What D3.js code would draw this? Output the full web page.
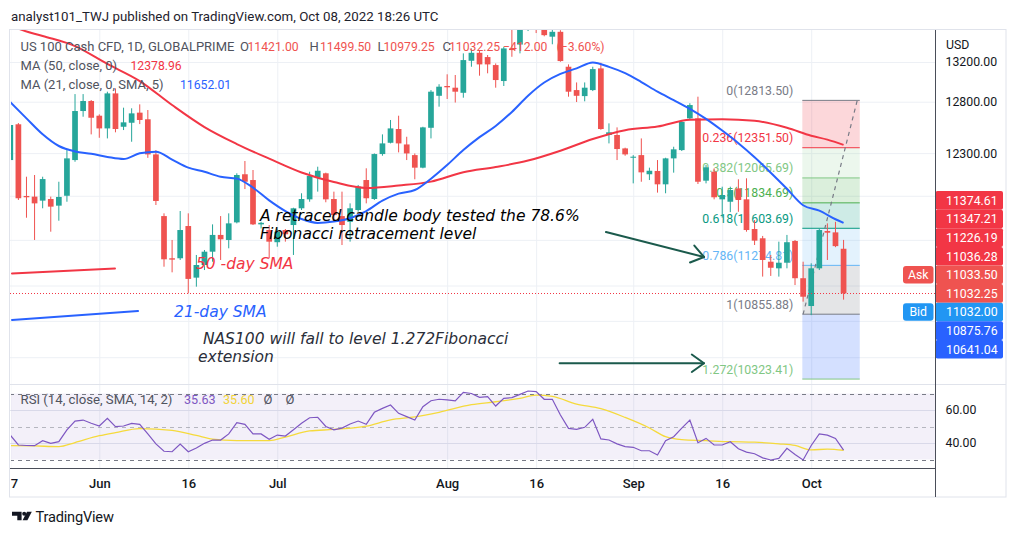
<!DOCTYPE html>
<html><head><meta charset="utf-8">
<script src="https://cdn.jsdelivr.net/npm/d3@7"></script>
<style>
html,body{margin:0;padding:0;background:#fff;}
svg{display:block;font-family:Roboto,"Noto Sans",sans-serif;}
</style></head><body>
<svg id="c" width="1018" height="536"></svg>
<script>
// ---------------- DATA ----------------
const tickIdx = [0, 11, 22, 33, 54, 65, 77, 88, 99];
const tickLbl = ["17", "Jun", "16", "Jul", "Aug", "16", "Sep", "16", "Oct"];

const open = [12234,12578,11898,11892,11855,11870,11809,11900,12234,12708,
 12807,12662,12538,12883,12554,12593,12692,12627,12288,11714,
 11337,11337,11624,11168,11278,11395,11544,11499,11657,12100,
 12046,11639,11588,11479,11588,11633,11785,11867,12067,12109,
 11870,11714,11662,11769,12046,11870,12291,12399,12532,12383,
 12281,12162,12544,12859,12957,12940,12889,13213,13295,13251,
 13169,13007,13340,13380,13560,13660,13600,13462,13513,13152,
 12916,12856,12916,13135,12474,12474,12345,12256,12281,12100,
 12131,12006,12250,12329,12636,12636,12040,12124,11867,11845,
 11968,11867,11597,11514,11307,11249,11298,11490,11163,10925,
 11249,11579,11567,11421.00];
const high = [12620,12590,12077,12093,12077,11892,12030,12329,12876,12876,
 12817,12675,12900,12933,12741,12735,12774,12718,12329,11739,
 11499,11760,11739,11366,11410,11639,11714,11739,12109,12225,
 12140,11662,11633,11602,11597,11790,11923,12124,12171,12115,
 11938,11938,11830,12000,12156,12297,12480,12620,12662,12457,
 12297,12554,12916,12975,13075,13068,13289,13340,13323,13272,
 13186,13357,13532,13620,13700,13740,13650,13560,13530,13176,
 12993,12993,13152,13193,12587,12548,12352,12281,12441,12162,
 12234,12256,12361,12620,12785,12850,12187,12156,11984,11984,
 12053,12062,11678,11535,11366,11484,11544,11499,11307,11293,
 11602,11648,11662,11499.50];
const low = [12206,11861,11699,11499,11785,11573,11672,11845,12218,12652,
 12480,12447,12441,12500,12522,12409,12580,12255,11815,11263,
 11214,11322,11033,11090,11234,11307,11322,11425,11648,11962,
 11633,11602,11337,11439,11484,11366,11769,11845,11938,11840,
 11662,11454,11484,11754,11830,11861,12275,12393,12307,12234,
 12053,12156,12441,12751,12827,12792,12840,13152,13061,13085,
 12940,12957,13254,13289,13521,13500,13466,13383,13203,12850,
 12797,12804,12906,12525,12393,12234,12275,12015,12030,12046,
 11929,11923,12115,12320,12620,12009,12015,11867,11700,11750,
 11753,11573,11454,11177,11183,11177,11249,11104,10962,10848,
 11234,11322,11435,10979.25];
const close = [12571,11877,11886,11830,12055,11800,11889,12250,12708,12807,
 12642,12538,12883,12532,12597,12685,12620,12288,11852,11328,
 11325,11588,11157,11278,11395,11544,11505,11648,12093,12030,
 11639,11653,11484,11573,11550,11785,11870,12084,12133,11867,
 11723,11633,11785,11984,11877,12291,12393,12538,12393,12297,
 12162,12548,12900,12950,12944,12900,13220,13295,13176,13176,
 13017,13340,13323,13560,13640,13610,13478,13513,13210,12900,
 12859,12940,13128,12532,12500,12339,12288,12266,12118,12133,
 12006,12250,12336,12601,12767,12030,12165,11886,11907,11953,
 11861,11588,11493,11322,11254,11298,11479,11163,11004,11249,
 11588,11564,11444.25,11032.25];

const ma50Idx = [0,1,4,8,12,16,20,24,28,32,36,40,44,48,52,56,60,64,68,72,76,80,84,88,92,96,99,101,103];
const ma50 = [13590,13547,13470,13364,13180,13007,12767,12551,12387,12247,12116,12027,11972,11995,12031,12119,12168,12229,12323,12435,12521,12556,12622,12627,12612,12544,12467,12429,12378.96];

const ma21Idx = [0,2,4,6,8,10,12,14,16,18,20,22,24,26,28,30,32,34,36,38,40,42,44,46,48,50,52,54,56,58,60,62,64,66,68,70,72,74,76,78,80,82,84,86,88,90,92,94,96,98,100,102,103];
const ma21 = [12797,12636,12481,12368,12316,12293,12264,12244,12298,12313,12239,12163,12123,12076,12059,11975,11857,11759,11687,11652,11664,11694,11760,11855,11920,11953,12058,12187,12329,12453,12562,12699,12860,12992,13079,13135,13196,13151,13087,12997,12900,12816,12730,12631,12517,12395,12261,12115,11965,11813,11763,11685,11652.01];

const rsi = [44.8,38.8,38.5,38.4,41.4,39.8,40.8,47.9,53.3,53.9,
 52,50.3,55,49.9,50.3,51.9,51.3,45.5,39.5,35,
 34.7,39.4,34.7,37,39.8,41.8,41.8,45.5,52.3,51.3,
 45.5,45.5,42.2,44.8,44.2,48,52,55.3,55.6,50,
 48,49,51.5,53.3,51.3,58.6,61,63,58,56,
 53.9,62,65.6,66.5,66.1,65.5,70.7,70,67.7,68.1,
 62.4,67.1,67.5,69.5,71.5,71.1,66.5,66.5,57,48.9,
 48.3,49.5,54.4,42.5,41.8,39.5,37.8,37.4,35.3,35.3,
 32.7,41.4,43.8,49,53.9,40.2,42.8,38.8,38.8,40.8,
 36.5,34.5,33.5,31,29.7,30.7,36.8,33,29.7,38.5,
 45.5,44.8,42.8,35.63];
const rsiMaIdx = [0,3,6,8,11,13,16,20,23,25,28,32,34,37,40,44,47,50,53,57,60,63,65,67,70,73,76,79,81,83,86,89,92,95,97,99,101,103];
const rsiMa = [38.4,38.2,37.8,40.3,44.4,46.3,48.7,47.6,44.6,42.4,41.5,41.4,43.6,47.3,48.2,50.2,54,55.8,58.6,63.2,65,67,69,68.2,63.6,60.8,55.5,49.1,43.8,42,41.4,40.8,40.5,39.5,38.5,35.8,36.3,35.60];

const priceTicks = [13200, 12800, 12300, 11900, 11500, 11100, 10800, 10500];
const rsiTicks = [60, 40];
const rsiBands = [70, 50, 30];

const fibRatios = [0, 0.236, 0.382, 0.5, 0.618, 0.786, 1, 1.272];
const fibPrices = [12813.50, 12351.50, 12065.69, 11834.69, 11603.69, 11274.81, 10855.88, 10323.41];
const fibSpan = [98, 105];

const axisLabels = [11374.61, 11347.21, 11226.19, 11036.28, 11033.50, 11032.25, 11032.00, 10875.76, 10641.04];

// drawings (bar index, price)
const redSeg = [[0.21, 11204], [12.94, 11247]];
const blueSeg = [[0.21, 10807], [15.79, 10883]];
const arrow1 = [[73.63, 11570], [85.75, 11348]];
const arrow2 = [[67.9, 10451], [85.75, 10451]];

// ---------------- STYLE / LAYOUT ----------------
const PL = 10, PR = 935, PT = 30, PB = 384, RT = 385, RB = 468, TB = 497, AR = 1006;
const GRID = "#EDF0F5", UP = "#26A69A", DN = "#EF5350", TXT = "#131722";
const fibLineCol = ["#787B86","#F23645","#81C784","#4CAF50","#089981","#64B5F6","#787B86","#81C784"];
const fibFill = ["#F23645","#81C784","#4CAF50","#089981","#64B5F6","#787B86","#2962FF"];
const fibFillOp = [0.2,0.15,0.2,0.2,0.18,0.2,0.2];
const labelCol = ["#F23645","#F23645","#F23645","#F23645","#EF5350","#EF5350","#2196F3","#2962FF","#2962FF"];

const svg = d3.select("#c");
const xs = d3.scaleLinear().domain([0, 103]).range([10.3, 10.3 + 103 * 8.09]);
const y = d3.scaleLog().domain([10284, 13532]).range([PB, PT]);
const ry = d3.scaleLinear().domain([30, 70]).range([459.5, 393.5]);
const BW = 5.7;

const defs = svg.append("defs");
defs.append("clipPath").attr("id","cp").append("rect").attr("x",PL+1).attr("y",PT).attr("width",PR-PL-1).attr("height",PB-PT);
defs.append("clipPath").attr("id","cr").append("rect").attr("x",PL+1).attr("y",RT).attr("width",PR-PL-1).attr("height",RB-RT);
defs.append("clipPath").attr("id","ct").append("rect").attr("x",PL+0.5).attr("y",RB).attr("width",PR-PL).attr("height",TB-RB);

// ---------- grids ----------
svg.append("g").attr("transform",`translate(${PL},0)`)
  .call(d3.axisRight(y).tickValues(priceTicks).tickSize(PR-PL).tickFormat(""))
  .call(g=>{g.select(".domain").remove(); g.selectAll("line").attr("stroke",GRID);});
svg.append("g").attr("clip-path","url(#cp)").append("g").attr("transform",`translate(0,${PT})`)
  .call(d3.axisBottom(xs).tickValues(tickIdx).tickSize(PB-PT).tickFormat(""))
  .call(g=>{g.select(".domain").remove(); g.selectAll("line").attr("stroke",GRID);});
svg.append("g").attr("clip-path","url(#cr)").append("g").attr("transform",`translate(0,${RT})`)
  .call(d3.axisBottom(xs).tickValues(tickIdx).tickSize(RB-RT).tickFormat(""))
  .call(g=>{g.select(".domain").remove(); g.selectAll("line").attr("stroke",GRID);});
svg.append("g").attr("transform",`translate(${PL},0)`)
  .call(d3.axisRight(ry).tickValues(rsiTicks).tickSize(PR-PL).tickFormat(""))
  .call(g=>{g.select(".domain").remove(); g.selectAll("line").attr("stroke","#E3E6EE");});

// ---------- RSI band ----------
const gR = svg.append("g").attr("clip-path","url(#cr)");
gR.append("rect").attr("x",PL).attr("width",PR-PL).attr("y",ry(70)).attr("height",ry(30)-ry(70))
  .attr("fill","rgba(126,87,194,0.09)");
gR.selectAll("line.band").data(rsiBands).join("line")
  .attr("x1",PL).attr("x2",PR).attr("y1",d=>Math.round(ry(d))+0.5).attr("y2",d=>Math.round(ry(d))+0.5)
  .attr("stroke",d=>d===50?"rgba(120,123,134,0.5)":"#787B86").attr("stroke-dasharray","4,4");

// ---------- Fibonacci ----------
const gF = svg.append("g").attr("clip-path","url(#cp)");
const fx0 = xs(fibSpan[0]) - 0.8, fx1 = xs(fibSpan[1]);
for (let k = 0; k < fibPrices.length - 1; k++) {
  gF.append("rect").attr("x",fx0).attr("width",fx1-fx0)
    .attr("y",y(fibPrices[k])).attr("height",y(fibPrices[k+1])-y(fibPrices[k]))
    .attr("fill",fibFill[k]).attr("fill-opacity",fibFillOp[k]);
}
fibPrices.forEach((p,k)=>{
  gF.append("line").attr("x1",fx0).attr("x2",fx1).attr("y1",y(p)).attr("y2",y(p))
    .attr("stroke",fibLineCol[k]).attr("stroke-width",1);
  gF.append("text").attr("x",fx0-9).attr("y",y(p)-5.5).attr("text-anchor","end")
    .attr("font-size",12.3).attr("fill",fibLineCol[k])
    .text(`${fibRatios[k]}(${p.toFixed(2)})`);
});

// ---------- candles ----------
const gC = svg.append("g").attr("clip-path","url(#cp)");
const idx = d3.range(open.length);
gC.selectAll("line.wick").data(idx).join("line")
  .attr("x1",i=>xs(i)).attr("x2",i=>xs(i)).attr("y1",i=>y(high[i])).attr("y2",i=>y(low[i]))
  .attr("stroke",i=>close[i]>=open[i]?UP:DN).attr("stroke-width",1);
gC.selectAll("rect.body").data(idx).join("rect")
  .attr("x",i=>xs(i)-BW/2).attr("width",BW)
  .attr("y",i=>y(Math.max(open[i],close[i])))
  .attr("height",i=>Math.max(1,Math.abs(y(open[i])-y(close[i]))))
  .attr("fill",i=>close[i]>=open[i]?UP:DN);

// ---------- fib trend dashed line ----------
gF.append("line").attr("x1",xs(fibSpan[0])).attr("y1",y(fibPrices[6]))
  .attr("x2",xs(fibSpan[1])-2.5).attr("y2",y(fibPrices[0]))
  .attr("stroke","#787B86").attr("stroke-width",1.2).attr("stroke-dasharray","4,4");

// ---------- moving averages ----------
const lineP = d3.line().x(d=>xs(d[0])).y(d=>y(d[1])).curve(d3.curveMonotoneX);
gC.append("path").datum(ma50Idx.map((d,k)=>[d,ma50[k]])).attr("d",lineP)
  .attr("fill","none").attr("stroke","#F23645").attr("stroke-width",2);
gC.append("path").datum(ma21Idx.map((d,k)=>[d,ma21[k]])).attr("d",lineP)
  .attr("fill","none").attr("stroke","#2962FF").attr("stroke-width",2);

// ---------- RSI ----------
gR.append("path").datum(rsiMaIdx.map((d,k)=>[d,rsiMa[k]]))
  .attr("d",d3.line().x(d=>xs(d[0])).y(d=>ry(d[1])).curve(d3.curveMonotoneX))
  .attr("fill","none").attr("stroke","#F5DA3C").attr("stroke-width",1.3);
gR.append("path").datum(rsi.map((v,i)=>[i,v])).attr("d",d3.line().x(d=>xs(d[0])).y(d=>ry(d[1])))
  .attr("fill","none").attr("stroke","#7E57C2").attr("stroke-width",1.2);

// ---------- current price line ----------
const lastClose = close[close.length-1];
svg.append("line").attr("x1",PL).attr("x2",PR).attr("y1",Math.round(y(lastClose))+0.5).attr("y2",Math.round(y(lastClose))+0.5)
  .attr("stroke","#F23645").attr("stroke-dasharray","1,2");

// ---------- drawings ----------
const gD = svg.append("g").attr("clip-path","url(#cp)");
const seg = (pts,col,w)=>gD.append("line").attr("x1",xs(pts[0][0])).attr("y1",y(pts[0][1]))
  .attr("x2",xs(pts[1][0])).attr("y2",y(pts[1][1])).attr("stroke",col).attr("stroke-width",w).attr("stroke-linecap","round");
seg(redSeg,"#F23645",2);
seg(blueSeg,"#2962FF",2);
const ARC = "#1B5A4C";
[arrow1, arrow2].forEach(a=>{
  seg(a, ARC, 2);
  const x1=xs(a[0][0]), y1=y(a[0][1]), x2=xs(a[1][0]), y2=y(a[1][1]);
  const ang = Math.atan2(y2-y1, x2-x1), L=15, th=0.62;
  const p1=[x2+L*Math.cos(ang+Math.PI-th), y2+L*Math.sin(ang+Math.PI-th)];
  const p2=[x2+L*Math.cos(ang+Math.PI+th), y2+L*Math.sin(ang+Math.PI+th)];
  gD.append("path").attr("d",`M${p1[0]},${p1[1]}L${x2},${y2}L${p2[0]},${p2[1]}`)
    .attr("fill","none").attr("stroke",ARC).attr("stroke-width",2).attr("stroke-linecap","round").attr("stroke-linejoin","round");
});
const notes = [
  {i:30.87, p:11669, lines:["A retraced candle body tested the 78.6%","Fibonacci retracement level"], col:"#000000"},
  {i:22.95, p:11239, lines:["50 -day SMA"], col:"#F23645"},
  {i:20.24, p:10832, lines:["21-day SMA"], col:"#2962FF"},
  {i:23.2, p:10604, lines:[" NAS100 will fall to level 1.272Fibonacci","extension"], col:"#2A2E39"}
];
notes.forEach(n=>{
  n.lines.forEach((t,k)=>{
    gD.append("text").attr("x",xs(n.i)).attr("y",y(n.p)+k*17.6)
      .attr("font-family","'DejaVu Sans',sans-serif").attr("font-style","italic").attr("font-size",15.5)
      .attr("fill",n.col).style("white-space","pre").text(t);
  });
});

// ---------- legends ----------
const T = (x,yy,t,col,fs=13)=>svg.append("text").attr("x",x).attr("y",yy).attr("fill",col).attr("font-size",fs).text(t);
T(11,21,"analyst101_TWJ published on TradingView.com, Oct 08, 2022 18:26 UTC","#1E222D",13.3);
const LG = "#50535E", NF = 12.2;
const n = close.length-1;
const chg = close[n]-close[n-1], pct = chg/close[n-1]*100;
T(20.5,51,"US 100 Cash CFD, 1D, GLOBALPRIME",LG);
T(240,51,"O",LG); T(247.5,51,open[n].toFixed(2),DN,NF);
T(309.5,51,"H",LG); T(320,51,high[n].toFixed(2),DN,NF);
T(377.5,51,"L",LG); T(383.5,51,low[n].toFixed(2),DN,NF);
T(442.5,51,"C",LG); T(449,51,close[n].toFixed(2),DN,NF);
T(503,51,"\u2212"+Math.abs(chg).toFixed(2),DN,NF);
T(556.5,51,"(\u2212"+Math.abs(pct).toFixed(2)+"%)",DN,NF);
T(20.5,70,"MA (50, close, 0)",LG); T(130.5,70,ma50[ma50.length-1].toFixed(2),"#F23645",NF);
T(20.5,89,"MA (21, close, 0, SMA, 5)",LG); T(180,89,ma21[ma21.length-1].toFixed(2),"#2962FF",NF);
T(20.5,403.5,"RSI (14, close, SMA, 14, 2)",LG,13.2);
T(184,403.5,rsi[rsi.length-1].toFixed(2),"#7E57C2",12.6);
T(223,403.5,rsiMa[rsiMa.length-1].toFixed(2),"#F2D33A",12.6);
T(263.5,403.5,"\u00D8",LG,13); T(285.5,403.5,"\u00D8",LG,13);

// ---------- axes ----------
const LH = 18.6, base = y(lastClose), kLast = axisLabels.indexOf(lastClose);
const stackTop = base - kLast*LH - LH/2, stackBot = base + (axisLabels.length-1-kLast)*LH + LH/2;
const shownTicks = priceTicks.filter(v=>y(v) < stackTop-6 || y(v) > stackBot+6);
svg.append("g").attr("transform",`translate(${PR},0)`)
  .call(d3.axisRight(y).tickValues(shownTicks).tickSize(0).tickPadding(10.5).tickFormat(d3.format(".2f")))
  .call(g=>{g.select(".domain").remove(); g.selectAll("text").attr("font-family","Roboto").attr("font-size",12.3).attr("fill",TXT);});
svg.append("g").attr("transform",`translate(${PR},0)`)
  .call(d3.axisRight(ry).tickValues(rsiTicks).tickSize(0).tickPadding(10.5).tickFormat(d3.format(".2f")))
  .call(g=>{g.select(".domain").remove(); g.selectAll("text").attr("font-family","Roboto").attr("font-size",12.3).attr("fill",TXT);});
svg.append("g").attr("clip-path","url(#ct)").append("g").attr("transform",`translate(0,${RB})`)
  .call(d3.axisBottom(xs).tickValues(tickIdx).tickSize(0).tickPadding(10.5).tickFormat((d,i)=>tickLbl[i]))
  .call(g=>{g.select(".domain").remove(); g.selectAll("text").attr("font-family","Roboto").attr("font-size",13).attr("font-weight",500).attr("fill",TXT);});
T(946,48.5,"USD",TXT,12.3);

// price labels stacked around last price
const gL = svg.append("g");
axisLabels.forEach((v,k)=>{
  const cy = base + (k-kLast)*LH;
  gL.append("rect").attr("x",PR+0.5).attr("y",cy-LH/2).attr("width",67.5).attr("height",LH)
    .attr("rx",2).attr("fill",labelCol[k]);
  gL.append("text").attr("x",946).attr("y",cy+4.4).attr("font-size",12.3).attr("fill","#fff").text(v.toFixed(2));
});
[["Ask",4],["Bid",6]].forEach(([t,k])=>{
  const cy = base + (k-kLast)*LH;
  gL.append("rect").attr("x",903).attr("y",cy-LH/2+0.5).attr("width",30.5).attr("height",LH-1)
    .attr("rx",3).attr("fill",labelCol[k]);
  gL.append("text").attr("x",918.2).attr("y",cy+4.4).attr("text-anchor","middle").attr("font-size",12.3).attr("fill","#fff").text(t);
});

// ---------- frame ----------
const FR = "#E0E3EB";
svg.append("rect").attr("x",PL-0.5).attr("y",PT-0.5).attr("width",AR-PL+0.5).attr("height",TB-PT+0.5)
  .attr("fill","none").attr("stroke",FR);
svg.append("line").attr("x1",PL).attr("x2",AR).attr("y1",PB+0.5).attr("y2",PB+0.5).attr("stroke",FR);
svg.append("line").attr("x1",PR+0.5).attr("x2",PR+0.5).attr("y1",PT).attr("y2",TB).attr("stroke","#4A4E59");
svg.append("line").attr("x1",PL).attr("x2",PR+1).attr("y1",RB+0.5).attr("y2",RB+0.5).attr("stroke","#4A4E59");

// ---------- logo ----------
const gLogo = svg.append("g").attr("fill","#131722");
gLogo.append("path").attr("d","M12,511.7h9.6v8.6h-4.3v-4.6h-5.3z");
gLogo.append("circle").attr("cx",24.2).attr("cy",513.7).attr("r",2);
gLogo.append("path").attr("d","M27,511.7h4.8l-4.4,8.6h-4.8z");
T(35.5,521.8,"TradingView","#131722",14.6).attr("letter-spacing",-0.2);
</script>
</body></html>
